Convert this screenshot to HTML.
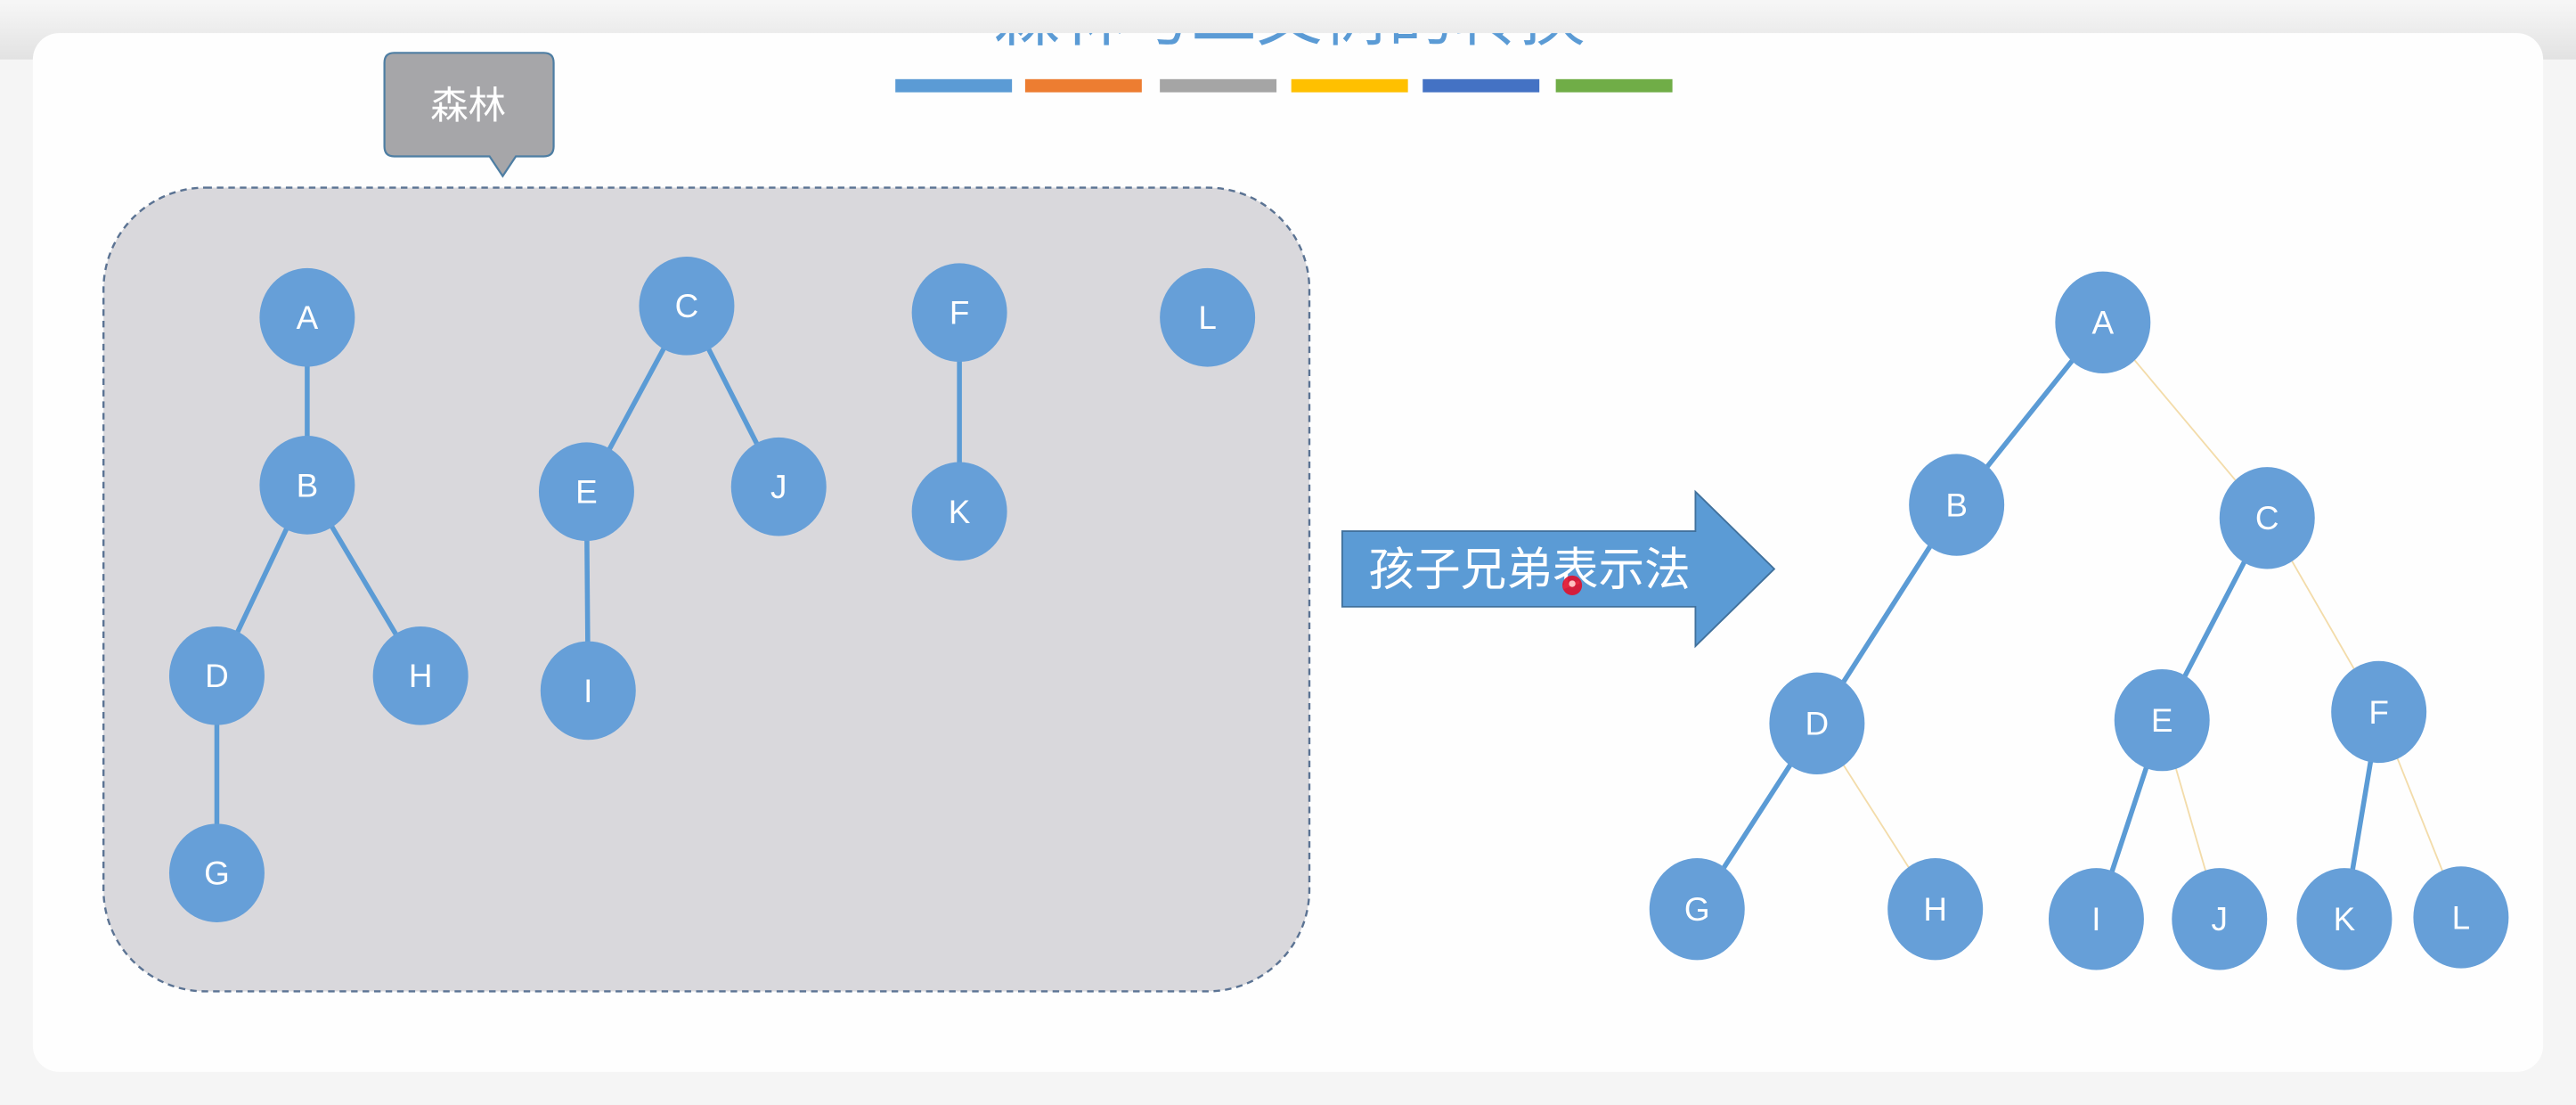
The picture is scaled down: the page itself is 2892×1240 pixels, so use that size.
<!DOCTYPE html>
<html><head><meta charset="utf-8"><style>
html,body{margin:0;padding:0;width:2892px;height:1240px;overflow:hidden;background:#f2f2f2}
svg{display:block}
text{font-family:"Liberation Sans","Noto Sans CJK SC",sans-serif}
</style></head><body>
<svg width="2892" height="1240" viewBox="0 0 1568 672" xmlns="http://www.w3.org/2000/svg">
<defs>
<linearGradient id="top" x1="0" y1="0" x2="0" y2="1"><stop offset="0" stop-color="#f7f7f7"/><stop offset="1" stop-color="#e2e2e2"/></linearGradient>
<clipPath id="card"><rect x="20" y="20" width="1528" height="632" rx="16"/></clipPath>
</defs>
<rect width="1568" height="672" fill="#f5f5f5"/>
<rect x="0" y="0" width="1568" height="36" fill="url(#top)"/>
<rect x="20" y="20" width="1528" height="632" rx="16" fill="#fefefe"/>
<g clip-path="url(#card)">
<text x="785" y="24" font-size="40" fill="#5b9bd5" text-anchor="middle">森林与二叉树的转换</text>
</g>
<rect x="545" y="48" width="71" height="8" fill="#5b9bd5"/>
<rect x="624" y="48" width="71" height="8" fill="#ed7d31"/>
<rect x="706" y="48" width="71" height="8" fill="#a5a5a5"/>
<rect x="786" y="48" width="71" height="8" fill="#ffc000"/>
<rect x="866" y="48" width="71" height="8" fill="#4472c4"/>
<rect x="947" y="48" width="71" height="8" fill="#70ad47"/>
<path d="M240 32 H331 Q337 32 337 38 V89 Q337 95 331 95 H314 L306 107 L298 95 H240 Q234 95 234 89 V38 Q234 32 240 32 Z" fill="#a6a6a9" stroke="#4e7ea3" stroke-width="1.2"/>
<text x="285" y="72" font-size="23" fill="#fff" text-anchor="middle">森林</text>
<rect x="63" y="114" width="734" height="489" rx="62" fill="#d9d8dc" stroke="#5b7393" stroke-width="1.3" stroke-dasharray="4 3"/>
<g stroke="#5b9bd5" stroke-width="3">
<line x1="187" y1="193" x2="187" y2="295"/>
<line x1="187" y1="295" x2="132" y2="411"/>
<line x1="187" y1="295" x2="256" y2="411"/>
<line x1="132" y1="411" x2="132" y2="531"/>
<line x1="418" y1="186" x2="357" y2="299"/>
<line x1="418" y1="186" x2="474" y2="296"/>
<line x1="357" y1="299" x2="358" y2="420"/>
<line x1="584" y1="190" x2="584" y2="311"/>
</g>
<g stroke="#5b9bd5" stroke-width="3">
<line x1="1280" y1="196" x2="1191" y2="307"/>
<line x1="1191" y1="307" x2="1106" y2="440"/>
<line x1="1106" y1="440" x2="1033" y2="553"/>
<line x1="1380" y1="315" x2="1316" y2="438"/>
<line x1="1316" y1="438" x2="1276" y2="559"/>
<line x1="1448" y1="433" x2="1427" y2="559"/>
</g>
<g stroke="#f3dcaa" stroke-width="1">
<line x1="1280" y1="196" x2="1380" y2="315"/>
<line x1="1380" y1="315" x2="1448" y2="433"/>
<line x1="1106" y1="440" x2="1178" y2="553"/>
<line x1="1316" y1="438" x2="1351" y2="559"/>
<line x1="1448" y1="433" x2="1498" y2="558"/>
</g>
<g fill="#669fd8">
<ellipse cx="187" cy="193" rx="29" ry="30"/><ellipse cx="187" cy="295" rx="29" ry="30"/>
<ellipse cx="132" cy="411" rx="29" ry="30"/><ellipse cx="256" cy="411" rx="29" ry="30"/>
<ellipse cx="132" cy="531" rx="29" ry="30"/><ellipse cx="418" cy="186" rx="29" ry="30"/>
<ellipse cx="357" cy="299" rx="29" ry="30"/><ellipse cx="474" cy="296" rx="29" ry="30"/>
<ellipse cx="358" cy="420" rx="29" ry="30"/><ellipse cx="584" cy="190" rx="29" ry="30"/>
<ellipse cx="584" cy="311" rx="29" ry="30"/><ellipse cx="735" cy="193" rx="29" ry="30"/>
<ellipse cx="1280" cy="196" rx="29" ry="31"/><ellipse cx="1191" cy="307" rx="29" ry="31"/>
<ellipse cx="1380" cy="315" rx="29" ry="31"/><ellipse cx="1106" cy="440" rx="29" ry="31"/>
<ellipse cx="1316" cy="438" rx="29" ry="31"/><ellipse cx="1448" cy="433" rx="29" ry="31"/>
<ellipse cx="1033" cy="553" rx="29" ry="31"/><ellipse cx="1178" cy="553" rx="29" ry="31"/>
<ellipse cx="1276" cy="559" rx="29" ry="31"/><ellipse cx="1351" cy="559" rx="29" ry="31"/>
<ellipse cx="1427" cy="559" rx="29" ry="31"/><ellipse cx="1498" cy="558" rx="29" ry="31"/>
</g>
<g fill="#fff" font-size="20" text-anchor="middle">
<text x="187" y="200">A</text><text x="187" y="302">B</text><text x="132" y="418">D</text>
<text x="256" y="418">H</text><text x="132" y="538">G</text><text x="418" y="193">C</text>
<text x="357" y="306">E</text><text x="474" y="303">J</text><text x="358" y="427">I</text>
<text x="584" y="197">F</text><text x="584" y="318">K</text><text x="735" y="200">L</text>
<text x="1280" y="203">A</text><text x="1191" y="314">B</text><text x="1380" y="322">C</text>
<text x="1106" y="447">D</text><text x="1316" y="445">E</text><text x="1448" y="440">F</text>
<text x="1033" y="560">G</text><text x="1178" y="560">H</text><text x="1276" y="566">I</text>
<text x="1351" y="566">J</text><text x="1427" y="566">K</text><text x="1498" y="565">L</text>
</g>
<path d="M817 323 H1032 V299 L1080 346 L1032 393 V369 H817 Z" fill="#5b9bd5" stroke="#41719c" stroke-width="1"/>
<text x="833" y="356" font-size="28" fill="#fff">孩子兄弟表示法</text>
<circle cx="957" cy="356" r="6" fill="#e0102a" opacity="0.9"/>
<circle cx="957" cy="355" r="2" fill="#ffc0c0"/>
</svg>
</body></html>
